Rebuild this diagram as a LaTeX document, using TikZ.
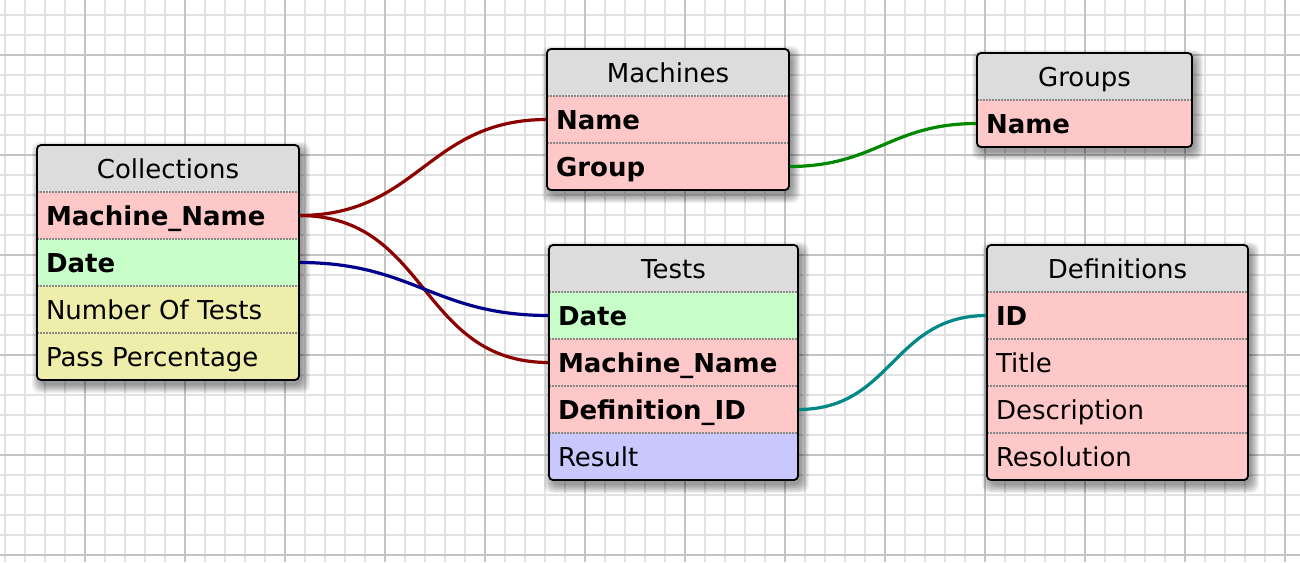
\documentclass[tikz,border=0pt]{standalone}
\usepackage{fontspec}
\setmainfont{DejaVu Sans}
\pgfdeclarelayer{bg}
\pgfdeclarelayer{conn}
\pgfsetlayers{bg,conn,main}
\definecolor{gminor}{RGB}{226,226,226}
\definecolor{gmajor}{RGB}{196,196,196}
\definecolor{hdrc}{RGB}{220,220,220}
\definecolor{pinkc}{RGB}{255,200,200}
\definecolor{greenc}{RGB}{200,255,200}
\definecolor{yellowc}{RGB}{238,238,170}
\definecolor{bluec}{RGB}{200,200,255}
\definecolor{sepc}{RGB}{136,136,136}
\definecolor{redl}{RGB}{140,0,0}
\definecolor{bluel}{RGB}{0,0,140}
\definecolor{greenl}{RGB}{0,136,0}
\definecolor{teall}{RGB}{0,136,136}
\newcommand\tblshadow[4]{%
  \foreach \s in {0,...,8}{%
    \fill[black,opacity=0.05,rounded corners=8pt]
      ({#1+3-\s},{#2+5-\s}) rectangle ({#3+3+\s},{#4+5+\s});}}
\begin{document}
\begin{tikzpicture}[x=1pt,y=-1pt,
  minorg/.style={draw=gminor,line width=1.6pt},
  majorg/.style={draw=gmajor,line width=1.6pt},
  cell/.style={anchor=north west,inner xsep=9pt,inner ysep=0pt,outer sep=0pt,
    minimum height=47pt,text width=#1,align=left,text height=19.5pt,text depth=0pt,
    font=\fontsize{26}{31}\selectfont},
  hcell/.style={cell=#1,align=center,fill=hdrc},
  key/.style={font=\fontsize{26}{31}\selectfont\bfseries},
  sep/.style={draw=sepc,line width=1.5pt,dash pattern=on 1.5pt off 1.5pt},
  border/.style={draw=black,line width=1.8pt,rounded corners=4pt},
  rel/.style={line width=3.2pt,out=0,in=180,looseness=1.15}]
\useasboundingbox (0,0) rectangle (1300,562);
\begin{pgfonlayer}{bg}
\fill[white] (0,0) rectangle (1300,562);
\foreach \x in {5,25,...,1300} \draw[minorg] (\x,0) -- (\x,562);
\foreach \y in {15,35,...,562} \draw[minorg] (0,\y) -- (1300,\y);
\foreach \x in {85,185,...,1300} \draw[majorg] (\x,0) -- (\x,562);
\foreach \y in {55,155,...,562} \draw[majorg] (0,\y) -- (1300,\y);
\tblshadow{37}{145}{299}{380}
\tblshadow{547}{49}{789}{190}
\tblshadow{977}{53}{1192}{147}
\tblshadow{549}{245}{798}{480}
\tblshadow{987}{245}{1248}{480}
\end{pgfonlayer}

% Collections
\begin{scope}
\clip[rounded corners=4pt] (37,145) rectangle (299,380);
\node[hcell=244pt] (col) at (37,145) {Collections};
\node[cell=244pt,fill=pinkc,key] (colmn) at (37,192) {Machine\_Name};
\node[cell=244pt,fill=greenc,key] (coldate) at (37,239) {Date};
\node[cell=244pt,fill=yellowc] (colnum) at (37,286) {Number Of Tests};
\node[cell=244pt,fill=yellowc] (colpass) at (37,333) {Pass Percentage};
\end{scope}
\draw[sep] (colmn.north west) -- (colmn.north east);
\draw[sep] (coldate.north west) -- (coldate.north east);
\draw[sep] (colnum.north west) -- (colnum.north east);
\draw[sep] (colpass.north west) -- (colpass.north east);
\draw[border] (col.north west) rectangle (colpass.south east);

% Machines
\begin{scope}
\clip[rounded corners=4pt] (547,49) rectangle (789,190);
\node[hcell=224pt] (mac) at (547,49) {Machines};
\node[cell=224pt,fill=pinkc,key] (macname) at (547,96) {Name};
\node[cell=224pt,fill=pinkc,key] (macgroup) at (547,143) {Group};
\end{scope}
\draw[sep] (macname.north west) -- (macname.north east);
\draw[sep] (macgroup.north west) -- (macgroup.north east);
\draw[border] (mac.north west) rectangle (macgroup.south east);

% Groups
\begin{scope}
\clip[rounded corners=4pt] (977,53) rectangle (1192,147);
\node[hcell=197pt] (grp) at (977,53) {Groups};
\node[cell=197pt,fill=pinkc,key] (grpname) at (977,100) {Name};
\end{scope}
\draw[sep] (grpname.north west) -- (grpname.north east);
\draw[border] (grp.north west) rectangle (grpname.south east);

% Tests
\begin{scope}
\clip[rounded corners=4pt] (549,245) rectangle (798,480);
\node[hcell=231pt] (tst) at (549,245) {Tests};
\node[cell=231pt,fill=greenc,key] (tstdate) at (549,292) {Date};
\node[cell=231pt,fill=pinkc,key] (tstmn) at (549,339) {Machine\_Name};
\node[cell=231pt,fill=pinkc,key] (tstdef) at (549,386) {Definition\_ID};
\node[cell=231pt,fill=bluec] (tstres) at (549,433) {Result};
\end{scope}
\draw[sep] (tstdate.north west) -- (tstdate.north east);
\draw[sep] (tstmn.north west) -- (tstmn.north east);
\draw[sep] (tstdef.north west) -- (tstdef.north east);
\draw[sep] (tstres.north west) -- (tstres.north east);
\draw[border] (tst.north west) rectangle (tstres.south east);

% Definitions
\begin{scope}
\clip[rounded corners=4pt] (987,245) rectangle (1248,480);
\node[hcell=243pt] (def) at (987,245) {Definitions};
\node[cell=243pt,fill=pinkc,key] (defid) at (987,292) {ID};
\node[cell=243pt,fill=pinkc] (deftitle) at (987,339) {Title};
\node[cell=243pt,fill=pinkc] (defdesc) at (987,386) {Description};
\node[cell=243pt,fill=pinkc] (defres) at (987,433) {Resolution};
\end{scope}
\draw[sep] (defid.north west) -- (defid.north east);
\draw[sep] (deftitle.north west) -- (deftitle.north east);
\draw[sep] (defdesc.north west) -- (defdesc.north east);
\draw[sep] (defres.north west) -- (defres.north east);
\draw[border] (def.north west) rectangle (defres.south east);

% connectors
\begin{pgfonlayer}{conn}
\draw[rel,redl] (colmn.east) to (macname.west);
\draw[rel,redl] (colmn.east) to (tstmn.west);
\draw[rel,bluel] (coldate.east) to (tstdate.west);
\draw[rel,greenl] (macgroup.east) to (grpname.west);
\draw[rel,teall] (tstdef.east) to (defid.west);
\end{pgfonlayer}
\end{tikzpicture}
\end{document}
